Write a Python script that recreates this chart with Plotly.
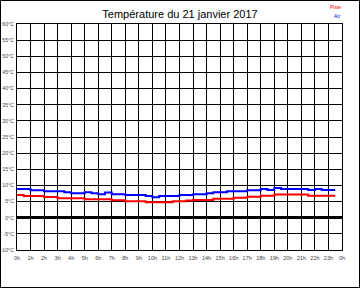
import plotly.graph_objects as go

hours = [h * 0.5 for h in range(48)]

air = [8.9, 8.9, 8.5, 8.5, 8.2, 8.2, 8.2, 7.9, 7.6, 7.6, 7.9, 7.6,
       7.3, 7.8, 7.3, 7.3, 7.0, 7.0, 7.0, 6.7, 6.35, 6.7, 6.7, 6.7,
       7.0, 7.0, 7.3, 7.3, 7.6, 7.9, 7.9, 8.2, 8.2, 8.2, 8.5, 8.5,
       8.9, 8.6, 9.2, 8.9, 8.9, 8.9, 8.9, 8.6, 8.9, 8.6, 8.6, 8.6]

piste = [7.0, 6.75, 6.75, 6.75, 6.4, 6.4, 6.0, 6.0, 6.0, 6.0, 5.7, 5.7,
         5.7, 5.7, 5.4, 5.4, 5.1, 5.1, 5.1, 4.8, 4.8, 4.8, 4.8, 5.1,
         5.1, 5.3, 5.5, 5.5, 5.5, 5.9, 5.9, 5.9, 6.2, 6.2, 6.5, 6.5,
         6.8, 6.8, 7.2, 7.2, 7.2, 7.2, 7.2, 6.8, 6.8, 6.8, 6.8, 6.8]

x_ticks = list(range(25))
x_labels = [f"{h % 24}h" for h in x_ticks]
y_ticks = list(range(-10, 61, 5))
y_labels = [f"{v}°C" for v in y_ticks]

title = "Température du 21 janvier 2017"
series_names = ["Piste", "Air"]

fig = go.Figure()
fig.add_trace(go.Scatter(x=hours, y=piste, mode="lines", line_shape="hv",
                         line=dict(color="#ff0000", width=2), name="Piste",
                         showlegend=False))
fig.add_trace(go.Scatter(x=hours, y=air, mode="lines", line_shape="hv",
                         line=dict(color="#0000ff", width=2), name="Air",
                         showlegend=False))

W, H = 360, 288
L, R, T, B = 17, 18, 24, 38
pw, ph = W - L - R, H - T - B

fig.update_layout(
    width=W, height=H,
    margin=dict(l=L, r=R, t=T, b=B, autoexpand=False),
    paper_bgcolor="white", plot_bgcolor="white",
    font=dict(family="Liberation Sans, Arial, sans-serif", color="#333333"),
    title=dict(text=title, x=0.5, xanchor="center", y=1 - 14 / H, yanchor="middle",
               automargin=False, font=dict(size=11, color="black")),
    xaxis=dict(range=[0, 24], tickvals=x_ticks, ticktext=x_labels, automargin=False,
               showgrid=True, gridcolor="black", gridwidth=1,
               zeroline=False, showline=True, linecolor="black", linewidth=1,
               mirror=True, ticks="", ticklabelstandoff=2,
               tickfont=dict(size=5.5, color="#444444")),
    yaxis=dict(range=[-10, 60], tickvals=y_ticks, ticktext=y_labels, automargin=False,
               showgrid=True, gridcolor="black", gridwidth=1,
               zeroline=True, zerolinecolor="black", zerolinewidth=3,
               showline=True, linecolor="black", linewidth=1, mirror=True,
               ticks="", ticklabelstandoff=1, tickfont=dict(size=5.2, color="#444444")),
    annotations=[
        dict(text=series_names[0], xref="paper", yref="paper",
             x=(343 - L) / pw, y=(H - B - 7) / ph, xanchor="right", yanchor="middle",
             showarrow=False, font=dict(size=5, color="#ff0000")),
        dict(text=series_names[1], xref="paper", yref="paper",
             x=(342 - L) / pw, y=(H - B - 16) / ph, xanchor="right", yanchor="middle",
             showarrow=False, font=dict(size=5, color="#0000ff")),
    ],
    shapes=[dict(type="rect", xref="paper", yref="paper",
                 x0=(0.5 - L) / pw, x1=(W - 0.5 - L) / pw,
                 y0=(H - B - (H - 0.5)) / ph, y1=(H - B - 0.5) / ph,
                 line=dict(color="black", width=1), fillcolor="rgba(0,0,0,0)",
                 layer="above")],
)

fig.write_html("out.html")
